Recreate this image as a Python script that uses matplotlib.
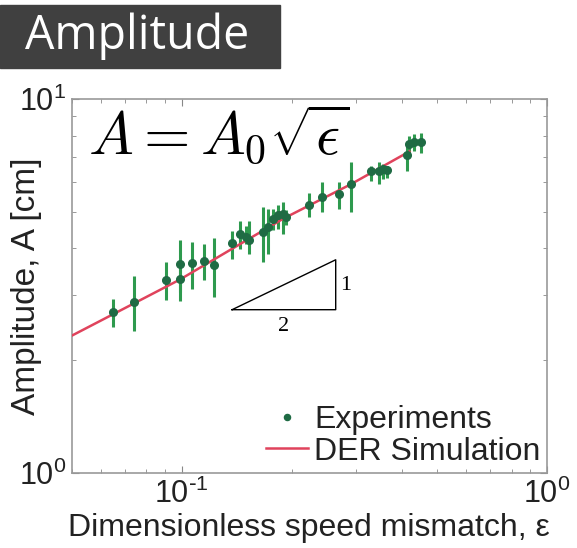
import matplotlib
matplotlib.use("Agg")
import numpy as np
import matplotlib.pyplot as plt
from matplotlib.patches import Rectangle
from matplotlib.ticker import FixedLocator, FixedFormatter, LogLocator, NullFormatter

# experimental points: speed mismatch, amplitude, lower / upper end of error bar
exp_eps = [0.0648, 0.0739, 0.0904, 0.0987, 0.0990, 0.1067, 0.1149, 0.1224,
           0.1374, 0.144, 0.150, 0.153, 0.167, 0.172, 0.178, 0.1836, 0.1895,
           0.1935, 0.2233, 0.2414, 0.270, 0.290, 0.329, 0.347, 0.355, 0.365,
           0.413, 0.420, 0.432, 0.451]
exp_amp = [2.70, 2.87, 3.29, 3.63, 3.30, 3.64, 3.70, 3.61,
           4.13, 4.36, 4.29, 4.20, 4.41, 4.54, 4.79, 4.89, 4.94,
           4.83, 5.20, 5.47, 5.59, 5.92, 6.43, 6.43, 6.52, 6.48,
           7.08, 7.61, 7.68, 7.68]
exp_lo = [2.46, 2.40, 2.90, 2.89, 3.05, 3.10, 3.28, 2.95,
          3.74, 3.97, 4.11, 3.86, 3.66, 3.86, 4.48, 4.50, 4.36,
          4.60, 4.83, 4.98, 5.09, 4.98, 6.06, 5.95, 6.12, 6.15,
          6.43, 7.20, 7.28, 7.20]
exp_hi = [2.92, 3.37, 3.66, 4.19, 3.55, 4.15, 4.09, 4.26,
          4.45, 4.73, 4.59, 4.73, 5.14, 5.10, 5.10, 5.20, 5.31,
          5.05, 5.63, 6.00, 6.00, 6.78, 6.65, 6.78, 6.70, 6.65,
          7.68, 8.00, 8.05, 8.10]

# DER simulation curve
sim_eps = [0.05, 0.0987, 0.1895, 0.29, 0.42]
sim_amp = [2.33, 3.29, 4.79, 5.92, 7.25]

# slope triangle (1:2)
tri_eps = [0.1374, 0.264, 0.264, 0.1374]
tri_amp = [2.735, 2.735, 3.72, 2.735]

green_dot = "#1f6b44"
green_bar = "#2e9a4e"
red = "#e0435c"

fig = plt.figure(figsize=(5.77, 5.48), dpi=100)
ax = fig.add_axes([0.1243, 0.1369, 0.8237, 0.6819])

amp = np.array(exp_amp)
yerr = [amp - np.array(exp_lo), np.array(exp_hi) - amp]
ax.errorbar(exp_eps, exp_amp, yerr=yerr, fmt="none", ecolor=green_bar,
            elinewidth=2.2, capsize=0, zorder=2)
sim_line, = ax.plot(sim_eps, sim_amp, color=red, lw=1.8, zorder=3)
exp_dots, = ax.plot(exp_eps, exp_amp, "o", color=green_dot, ms=5.5, zorder=4)

ax.plot(tri_eps, tri_amp, color="black", lw=1.0, zorder=1)
ax.text(0.272, 3.18, "1", fontsize=16, family="Liberation Serif", va="center")
ax.text(0.19, 2.62, "2", fontsize=16, family="Liberation Serif", ha="center",
        va="top")

ax.text(0.034, 0.851, r"$A = A_0\sqrt{\epsilon}$", transform=ax.transAxes,
        fontsize=43, math_fontfamily="cm", va="baseline")

ax.set_xscale("log")
ax.set_yscale("log")
ax.set_xlim(0.05, 1)
ax.set_ylim(1, 10)

ax.xaxis.set_major_locator(FixedLocator([0.1, 1]))
ax.xaxis.set_major_formatter(FixedFormatter([r"$\mathregular{10^{\text{-}1}}$",
                                             r"$\mathregular{10^{0}}$"]))
ax.yaxis.set_major_locator(FixedLocator([1, 10]))
ax.yaxis.set_major_formatter(FixedFormatter([r"$\mathregular{10^{0}}$",
                                             r"$\mathregular{10^{1}}$"]))
for axis in (ax.xaxis, ax.yaxis):
    axis.set_minor_locator(LogLocator(base=10, subs=np.arange(2, 10)))
    axis.set_minor_formatter(NullFormatter())

ax.tick_params(which="both", direction="in", top=True, right=True,
               color="#888888", labelsize=22, labelcolor="#222222",
               labelfontfamily="Liberation Sans")
ax.tick_params(which="major", length=5, width=0.8, pad=4)
ax.tick_params(which="minor", length=3, width=0.6)
for s in ax.spines.values():
    s.set_color("#999999")
    s.set_linewidth(1.2)

ax.set_xlabel("Dimensionless speed mismatch, ε", fontsize=23,
              family="Liberation Sans", color="#222222", labelpad=2)
ax.set_ylabel("Amplitude, A [cm]", fontsize=24, family="Liberation Sans",
              color="#222222")
ax.yaxis.set_label_coords(-0.0625, 0.5)

leg = ax.legend([exp_dots, sim_line], ["Experiments", "DER Simulation"],
                loc="lower right", frameon=False,
                prop={"family": "Liberation Sans", "size": 23},
                handlelength=1.3, handletextpad=0.2, borderaxespad=0.1,
                labelspacing=0.05, borderpad=0.1, markerscale=0.8)
for t in leg.get_texts():
    t.set_color("#222222")

# title banner
fig.patches.append(Rectangle((0, 1 - 68 / 548), 280 / 577, 63 / 548,
                             transform=fig.transFigure, color="#404040",
                             zorder=0))
fig.text(25 / 577, 1 - 36.5 / 548, "Amplitude", color="white", fontsize=33.5,
         family="Open Sans", va="center", ha="left")

fig.savefig("out.png", dpi=100)
